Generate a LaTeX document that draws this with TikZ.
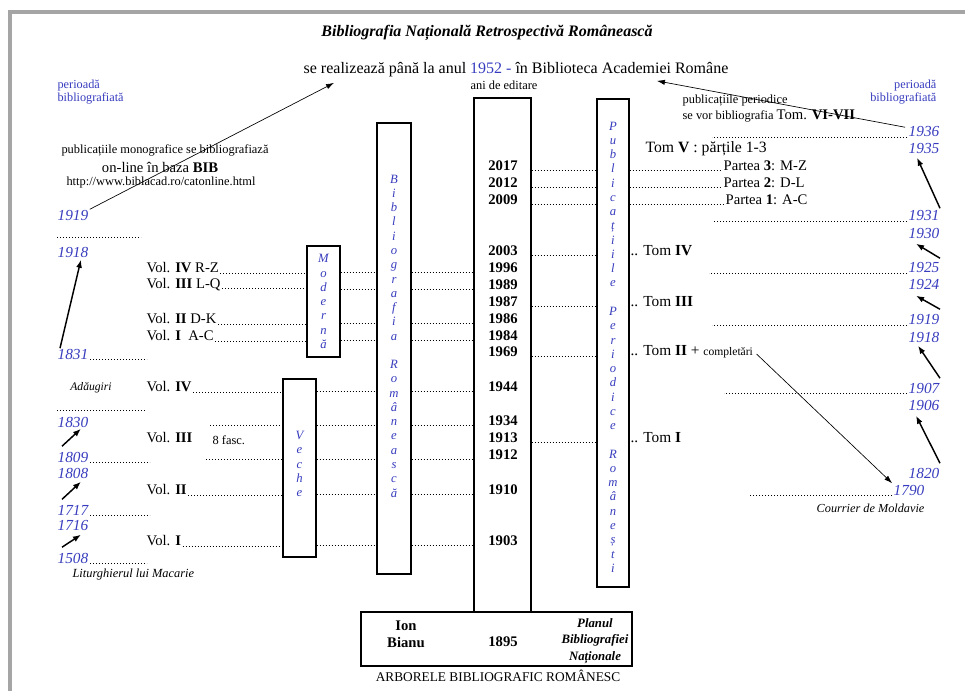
\documentclass[tikz,border=0pt]{standalone}
\usepackage{fontspec}
\setmainfont{Liberation Serif}
\usepackage{tikz}
\usetikzlibrary{arrows.meta, positioning, calc}
\usepackage{xcolor}
\definecolor{ArbBlue}{RGB}{55, 60, 190}
\definecolor{FrameGray}{RGB}{165, 165, 165}
\tikzset{
  txt/.style={inner sep=1pt, font=\fontsize{11}{13}\selectfont},
  sml/.style={inner sep=1pt, font=\fontsize{9.3}{11}\selectfont},
  ttl/.style={inner sep=1pt, font=\fontsize{12}{14}\selectfont\bfseries\itshape},
  yrl/.style={inner sep=1pt, text=ArbBlue, font=\fontsize{11.5}{13}\selectfont\itshape},
  yrc/.style={inner sep=1pt, font=\fontsize{11}{13}\selectfont\bfseries},
  per/.style={inner sep=1pt, text=ArbBlue, font=\fontsize{9.2}{9.75}\selectfont},
  vlet/.style={inner sep=0pt, text=ArbBlue, align=center,
               font=\fontsize{9.5}{10.7}\selectfont\itshape},
  colbox/.style={rectangle, draw=black, line width=0.9pt, fill=white,
                 inner sep=0pt, minimum width=#1},
  lead/.style={dash pattern=on 0.5pt off 1.75pt, line width=0.6pt},
  thkarr/.style={-{Latex[length=6pt,width=4.5pt]}, line width=1.1pt},
  thnarr/.style={-{Latex[length=6pt,width=4pt]}, line width=0.5pt},
  framel/.style={draw=FrameGray, line width=2.4pt},
}
\begin{document}
\begin{tikzpicture}[x=0.75pt, y=-0.75pt]
  \useasboundingbox (0,0) rectangle (965,691);
  \draw[framel] (10,691) -- (10,12) -- (965,12);

  % headings
  \node[ttl] (title) at (487,33) {Bibliografia Națională Retrospectivă Românească};
  \node[txt, font=\fontsize{12}{14}\selectfont] (sub) at (516,70) {se realizează până la anul \textcolor{ArbBlue}{1952 -} în Biblioteca Academiei Române};
  \node[sml] (edit) at (504,85) {ani de editare};
  \node[per, anchor=west, align=left] (perl) at (56,92) {perioadă\\bibliografiată};
  \node[per, anchor=east, align=right] (perr) at (938,92) {perioadă\\bibliografiată};
  \node[sml] (mono) at (165,150) {publicațiile monografice se bibliografiază};
  \node[txt] (online) at (160,167) {on-line în baza \textbf{BIB}};
  \node[sml] (url) at (161,183) {http://www.biblacad.ro/catonline.html};
  \node[sml, anchor=west] (perio) at (681,101) {publicațiile periodice};
  \node[sml, anchor=west] (sevor) at (681,116) {se vor bibliografia {\fontsize{11}{13}\selectfont Tom. \textbf{VI-VII}}};

  % columns
  \node[colbox=25.5pt, minimum height=338.25pt] (brom) at (394,348.5) {};
  \node[vlet] (bromt) at (394,336) {B\\i\\b\\l\\i\\o\\g\\r\\a\\f\\i\\a\\~\\R\\o\\m\\â\\n\\e\\a\\s\\c\\ă};
  \node[colbox=24.75pt, minimum height=83.25pt] (mod) at (323.5,301.5) {};
  \node[vlet] (modt) at (323.5,301.5) {M\\o\\d\\e\\r\\n\\ă};
  \node[colbox=24.75pt, minimum height=133.5pt] (vec) at (299.5,468) {};
  \node[vlet] (vect) at (299.5,464) {V\\e\\c\\h\\e};
  \node[colbox=24pt, minimum height=366pt] (pub) at (613,343) {};
  \node[vlet] (pubt) at (613,347) {P\\u\\b\\l\\i\\c\\a\\ț\\i\\i\\l\\e\\~\\P\\e\\r\\i\\o\\d\\i\\c\\e\\~\\R\\o\\m\\â\\n\\e\\ș\\t\\i};
  \node[colbox=42.75pt, minimum height=385.5pt] (col) at (502.5,355) {};
  \node[colbox=203.25pt, minimum height=40.5pt] (base) at (496.5,639) {};

  % base box
  \node[yrc, align=center, font=\fontsize{11}{12.75}\selectfont\bfseries] (ion) at (406,634) {Ion\\Bianu};
  \node[yrc] (y1895) at (503,642) {1895};
  \node[yrc, align=center, font=\fontsize{9.6}{12.3}\selectfont\bfseries\itshape] (plan) at (595,641) {Planul\\Bibliografiei\\Naționale};
  \node[txt, font=\fontsize{10}{12}\selectfont] (arb) at (498,676) {ARBORELE BIBLIOGRAFIC ROMÂNESC};

  % years of edition
  \node[yrc] (y2017) at (503,166) {2017};
  \node[yrc] (y2012) at (503,183) {2012};
  \node[yrc] (y2009) at (503,200) {2009};
  \node[yrc] (y2003) at (503,251) {2003};
  \node[yrc] (y1996) at (503,268) {1996};
  \node[yrc] (y1989) at (503,285) {1989};
  \node[yrc] (y1987) at (503,302) {1987};
  \node[yrc] (y1986) at (503,319) {1986};
  \node[yrc] (y1984) at (503,336) {1984};
  \node[yrc] (y1969) at (503,352) {1969};
  \node[yrc] (y1944) at (503,387) {1944};
  \node[yrc] (y1934) at (503,421) {1934};
  \node[yrc] (y1913) at (503,438) {1913};
  \node[yrc] (y1912) at (503,455) {1912};
  \node[yrc] (y1910) at (503,490) {1910};
  \node[yrc] (y1903) at (503,541) {1903};

  % left side
  \node[yrl, anchor=west] (l1919) at (56,216) {1919};
  \node[yrl, anchor=west] (l1918) at (56,252) {1918};
  \node[yrl, anchor=west] (l1831) at (56,354) {1831};
  \node[yrl, anchor=west] (l1830) at (56,422) {1830};
  \node[yrl, anchor=west] (l1809) at (56,457) {1809};
  \node[yrl, anchor=west] (l1808) at (56,473) {1808};
  \node[yrl, anchor=west] (l1717) at (56,510) {1717};
  \node[yrl, anchor=west] (l1716) at (56,526) {1716};
  \node[yrl, anchor=west] (l1508) at (56,558) {1508};
  \node[sml, font=\fontsize{8.7}{10}\selectfont\itshape] (adaug) at (91,388) {Adăugiri};
  \node[sml, anchor=west, font=\fontsize{9.3}{11}\selectfont\itshape] (litur) at (71,575) {Liturghierul lui Macarie};
  \draw[lead] (57,237) -- (141,237);
  \draw[lead] (57,410) -- (145,410);
  \draw[lead] (l1831.base east) -- ++(57,0);
  \draw[lead] (l1809.base east) -- ++(60,0);
  \draw[lead] (l1717.base east) -- ++(60,0);
  \draw[lead] (l1508.base east) -- ++(57,0);

  \node[txt, anchor=west] (v4rz) at (145,268) {Vol. \textbf{IV} R-Z};
  \node[txt, anchor=west] (v3lq) at (145,285) {Vol. \textbf{III} L-Q};
  \node[txt, anchor=west] (v2dk) at (145,319) {Vol. \textbf{II} D-K};
  \node[txt, anchor=west] (v1ac) at (145,336) {Vol. \textbf{I}\ \ A-C};
  \node[txt, anchor=west] (v4) at (145,387) {Vol. \textbf{IV}};
  \node[txt, anchor=west] (v3) at (145,438) {Vol. \textbf{III}};
  \node[sml, anchor=west] (fasc) at (211,440) {8 fasc.};
  \node[txt, anchor=west] (v2) at (145,490) {Vol. \textbf{II}};
  \node[txt, anchor=west] (v1) at (145,541) {Vol. \textbf{I}};
  \coordinate (c1934) at (210,421);
  \coordinate (c1912) at (206,455);

  % Moderna
  \draw[lead] (v4rz.base east) -- (mod.west |- v4rz.base);
  \draw[lead] (v3lq.base east) -- (mod.west |- v3lq.base);
  \draw[lead] (v2dk.base east) -- (mod.west |- v2dk.base);
  \draw[lead] (v1ac.base east) -- (mod.west |- v1ac.base);
  \draw[lead] (mod.east |- y1996.base) -- (brom.west |- y1996.base);
  \draw[lead] (mod.east |- y1989.base) -- (brom.west |- y1989.base);
  \draw[lead] (mod.east |- y1986.base) -- (brom.west |- y1986.base);
  \draw[lead] (mod.east |- y1984.base) -- (brom.west |- y1984.base);
  % Veche
  \draw[lead] (v4.base east) -- (vec.west |- v4.base);
  \draw[lead] (c1934 |- y1934.base) -- (vec.west |- y1934.base);
  \draw[lead] (c1912 |- y1912.base) -- (vec.west |- y1912.base);
  \draw[lead] (v2.base east) -- (vec.west |- v2.base);
  \draw[lead] (v1.base east) -- (vec.west |- v1.base);
  \draw[lead] (vec.east |- y1944.base) -- (brom.west |- y1944.base);
  \draw[lead] (vec.east |- y1934.base) -- (brom.west |- y1934.base);
  \draw[lead] (vec.east |- y1912.base) -- (brom.west |- y1912.base);
  \draw[lead] (vec.east |- y1910.base) -- (brom.west |- y1910.base);
  \draw[lead] (vec.east |- y1903.base) -- (brom.west |- y1903.base);
  % to the years column
  \draw[lead] (brom.east |- y1996.base) -- (col.west |- y1996.base);
  \draw[lead] (brom.east |- y1989.base) -- (col.west |- y1989.base);
  \draw[lead] (brom.east |- y1986.base) -- (col.west |- y1986.base);
  \draw[lead] (brom.east |- y1984.base) -- (col.west |- y1984.base);
  \draw[lead] (brom.east |- y1944.base) -- (col.west |- y1944.base);
  \draw[lead] (brom.east |- y1934.base) -- (col.west |- y1934.base);
  \draw[lead] (brom.east |- y1912.base) -- (col.west |- y1912.base);
  \draw[lead] (brom.east |- y1910.base) -- (col.west |- y1910.base);
  \draw[lead] (brom.east |- y1903.base) -- (col.west |- y1903.base);

  % periodicals
  \node[txt, anchor=west, font=\fontsize{11.8}{13}\selectfont] (tom5) at (644,149) {Tom \textbf{V} : părțile 1-3};
  \node[txt, anchor=west] (p3) at (722,166) {Partea \textbf{3}: M-Z};
  \node[txt, anchor=west] (p2) at (722,183) {Partea \textbf{2}: D-L};
  \node[txt, anchor=west] (p1) at (724,200) {Partea \textbf{1}: A-C};
  \node[txt, anchor=west, font=\fontsize{11.5}{13}\selectfont] (tom4) at (629,251) {.. Tom \textbf{IV}};
  \node[txt, anchor=west, font=\fontsize{11.5}{13}\selectfont] (tom3) at (629,302) {.. Tom \textbf{III}};
  \node[txt, anchor=west, font=\fontsize{11.5}{13}\selectfont] (tom2) at (629,352) {.. Tom \textbf{II} + {\fontsize{8.7}{10}\selectfont completări}};
  \node[txt, anchor=west, font=\fontsize{11.5}{13}\selectfont] (tom1) at (629,438) {.. Tom \textbf{I}};
  \draw[lead] (col.east |- y2017.base) -- (pub.west |- y2017.base);
  \draw[lead] (col.east |- y2012.base) -- (pub.west |- y2012.base);
  \draw[lead] (col.east |- y2009.base) -- (pub.west |- y2009.base);
  \draw[lead] (col.east |- y2003.base) -- (pub.west |- y2003.base);
  \draw[lead] (col.east |- y1987.base) -- (pub.west |- y1987.base);
  \draw[lead] (col.east |- y1969.base) -- (pub.west |- y1969.base);
  \draw[lead] (col.east |- y1913.base) -- (pub.west |- y1913.base);
  \draw[lead] (pub.east |- p3.base) -- (p3.base west);
  \draw[lead] (pub.east |- p2.base) -- (p2.base west);
  \draw[lead] (pub.east |- p1.base) -- (p1.base west);

  % right side
  \node[yrl, anchor=east] (r1936) at (941,132) {1936};
  \node[yrl, anchor=east] (r1935) at (941,149) {1935};
  \node[yrl, anchor=east] (r1931) at (941,216) {1931};
  \node[yrl, anchor=east] (r1930) at (941,233) {1930};
  \node[yrl, anchor=east] (r1925) at (941,268) {1925};
  \node[yrl, anchor=east] (r1924) at (941,285) {1924};
  \node[yrl, anchor=east] (r1919) at (941,320) {1919};
  \node[yrl, anchor=east] (r1918) at (941,337) {1918};
  \node[yrl, anchor=east] (r1907) at (941,388) {1907};
  \node[yrl, anchor=east] (r1906) at (941,405) {1906};
  \node[yrl, anchor=east] (r1820) at (941,473) {1820};
  \node[yrl, anchor=east] (r1790) at (926,490) {1790};
  \node[sml, anchor=east, font=\fontsize{9.2}{11}\selectfont\itshape] (courr) at (926,508) {Courrier de Moldavie};
  \draw[lead] (r1936.base west) -- ++(-195,0);
  \draw[lead] (r1931.base west) -- ++(-193,0);
  \draw[lead] (r1925.base west) -- ++(-198,0);
  \draw[lead] (r1919.base west) -- ++(-195,0);
  \draw[lead] (r1907.base west) -- ++(-183,0);
  \draw[lead] (r1790.base west) -- ++(-143,0);

  % arrows
  \draw[thkarr] ($(l1831.north west)+(4,1)$) -- ($(l1918.south)+(8,1)$);
  \draw[thkarr] ($(l1809.north west)+(6,-4)$) -- ($(l1830.south)+(8,0)$);
  \draw[thkarr] ($(l1717.north west)+(6,-4)$) -- ($(l1808.south)+(8,2)$);
  \draw[thkarr] ($(l1508.north west)+(6,-4)$) -- ($(l1716.south)+(8,2)$);
  \draw[thkarr] ($(r1931.north east)+(-1,-1)$) -- ($(r1935.south)+(-7,2)$);
  \draw[thkarr] ($(r1925.north east)+(-1,-3)$) -- ($(r1930.south)+(-8,4)$);
  \draw[thkarr] ($(r1919.north east)+(-1,-4)$) -- ($(r1924.south)+(-8,4)$);
  \draw[thkarr] ($(r1907.north east)+(-1,-3)$) -- ($(r1918.south)+(-6,2)$);
  \draw[thkarr] ($(r1820.north east)+(-1,-3)$) -- ($(r1906.south)+(-8,4)$);
  \draw[thnarr] (l1919.north east) -- ($(sub.south west)+(32,4)$);
  \draw[thnarr] ($(r1936.north west)+(-2,2)$) -- ($(sub.south east)+(-73,2)$);
  \draw[thnarr] ($(tom2.east)+(2,2)$) -- (r1790.north west);
\end{tikzpicture}
\end{document}
